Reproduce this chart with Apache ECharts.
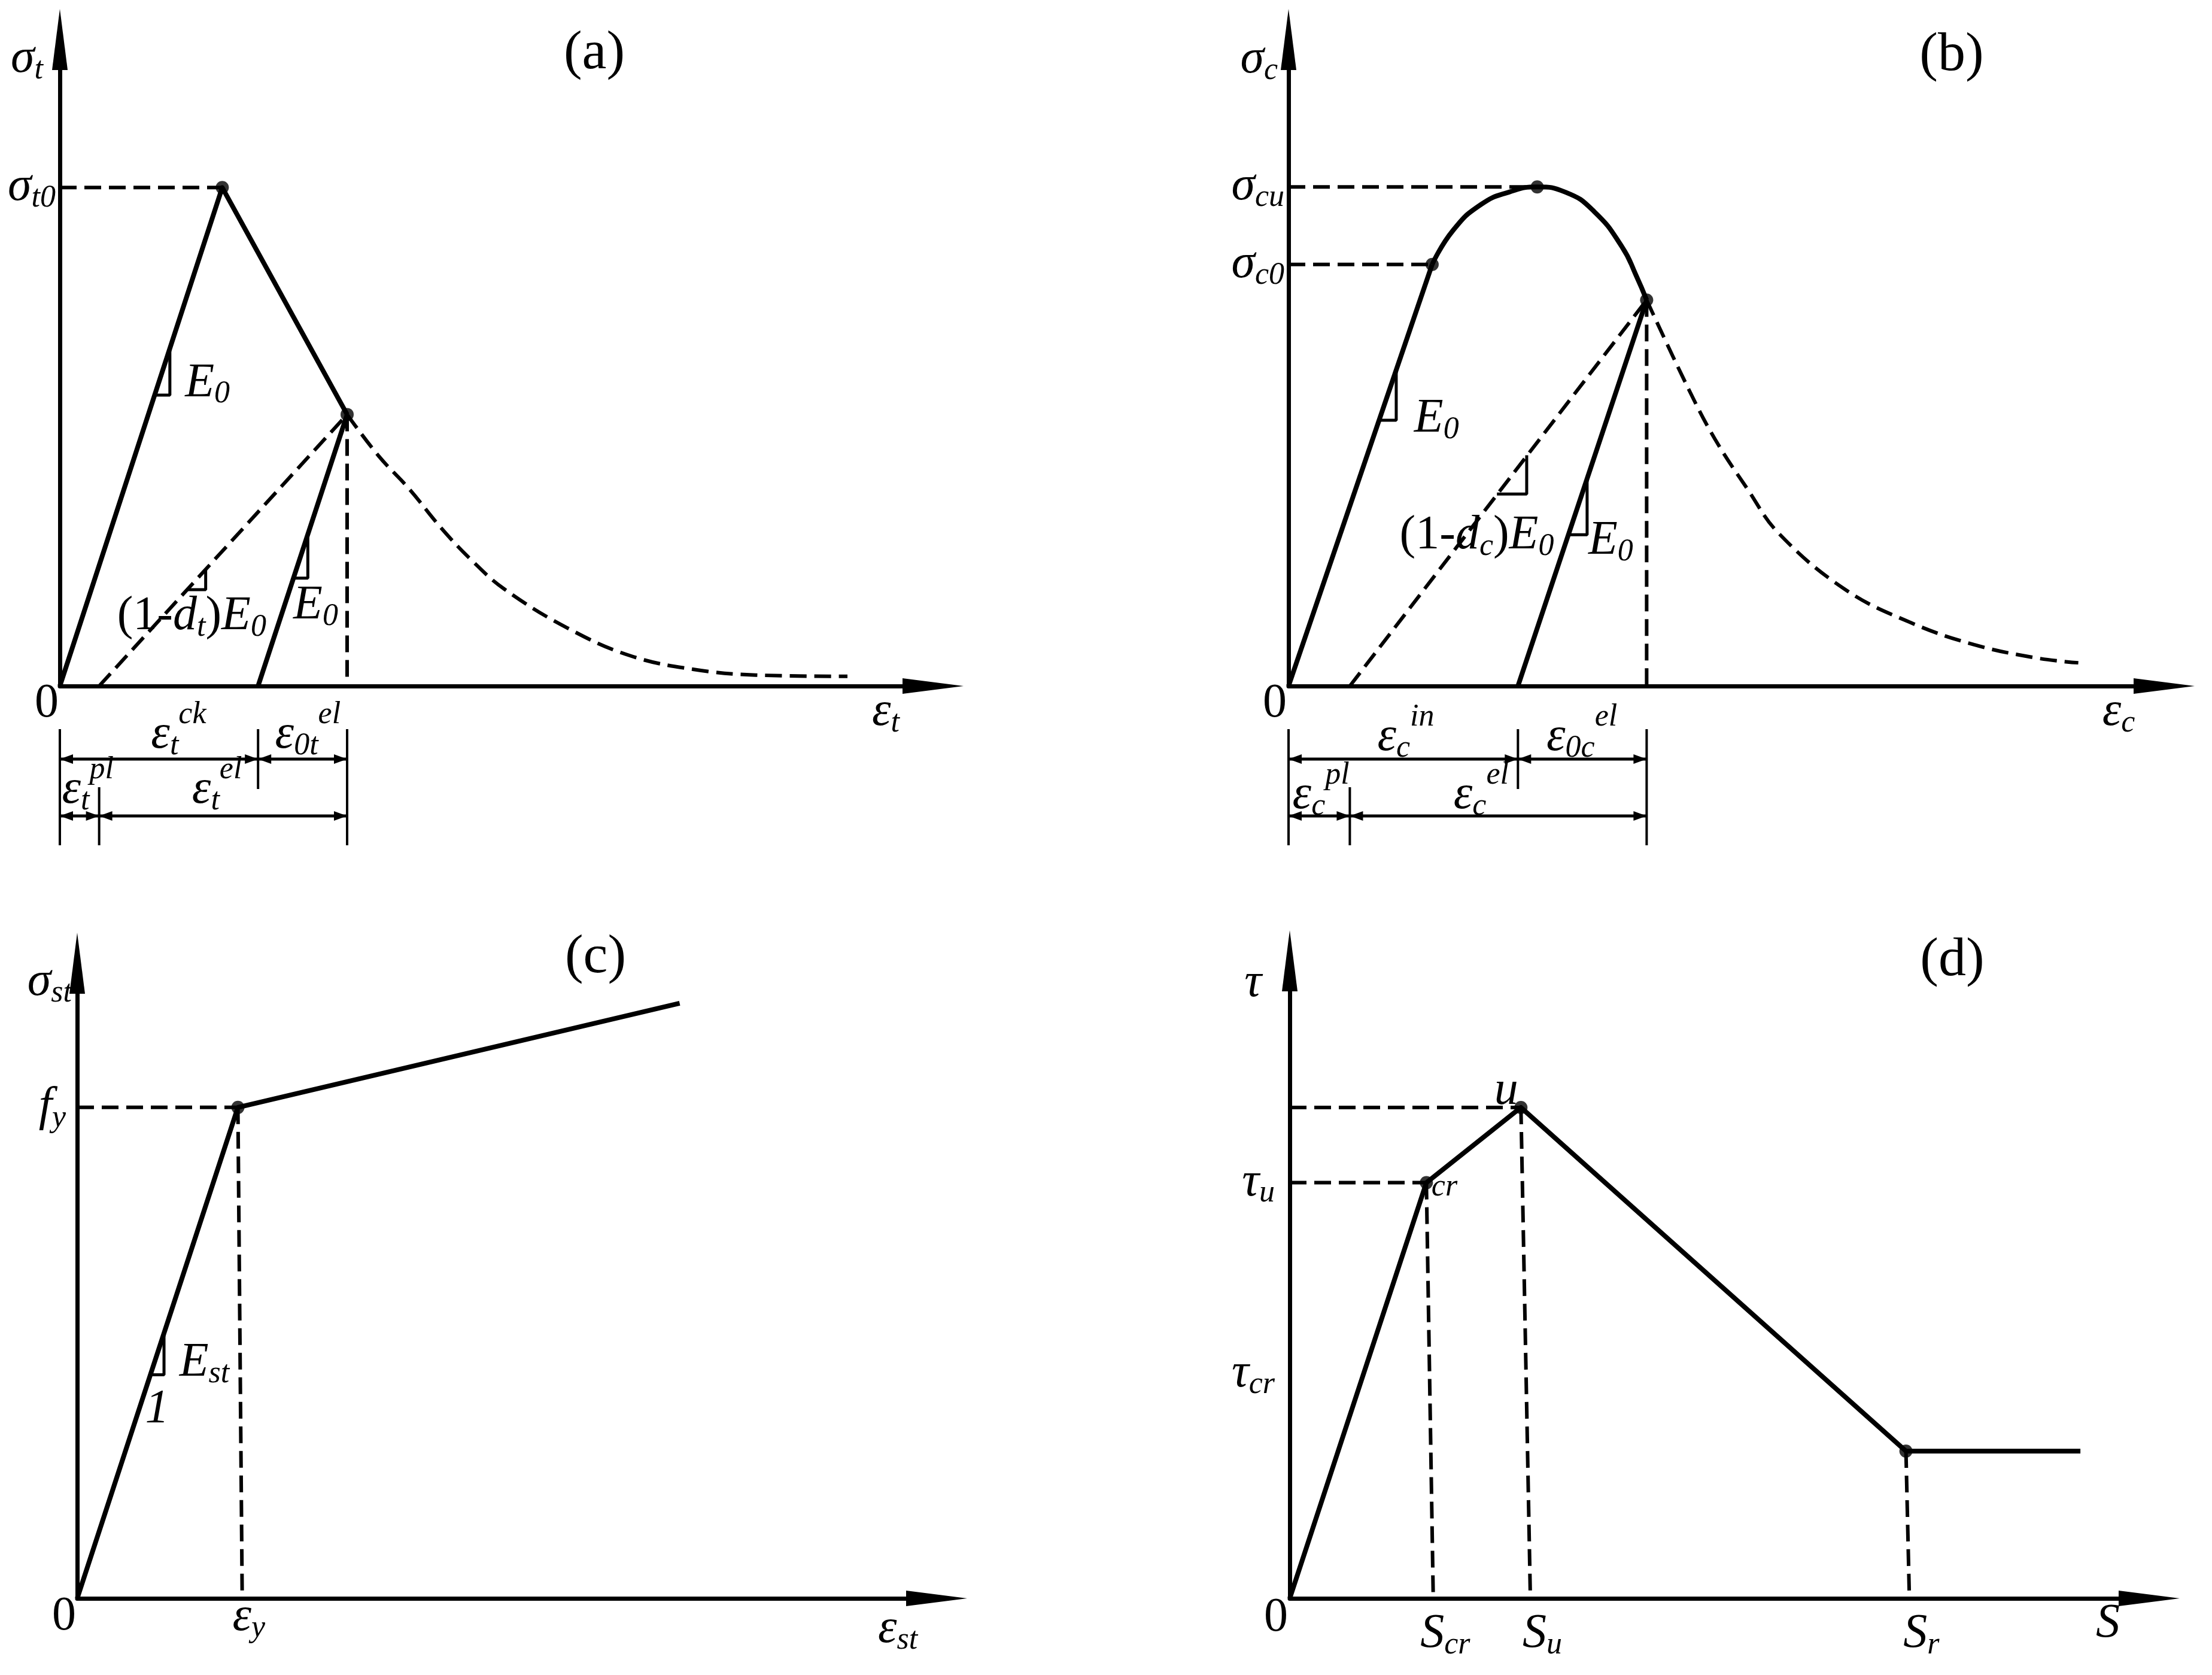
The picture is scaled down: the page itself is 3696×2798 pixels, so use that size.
<!DOCTYPE html>
<html>
<head>
<meta charset="utf-8">
<script src="https://cdn.jsdelivr.net/npm/echarts@6/dist/echarts.min.js"></script>
<style>
html,body{margin:0;padding:0;background:#fff;}
#chart{width:3696px;height:2798px;}
</style>
</head>
<body>
<div id="chart"></div>
<script>
// ---------------- data (schematic units, 0-100 along each axis) ----------------
// (a) concrete in tension
const tenEnvelope = [[0, 0], [18.6, 77.1], [32.9, 42.0]];
const tenTail = [[32.9, 42.0], [36.5, 35.6], [40.0, 30.5], [43.7, 24.4], [47.2, 19.4], [50.9, 15.0], [58.1, 9.0], [65.3, 4.7], [72.5, 2.6], [79.7, 1.7], [90.2, 1.5]];
const tenUnload = [[22.7, 0], [32.9, 42.0]];
const tenSecant = [[4.5, 0], [32.9, 42.0]];
const tenGuideH = [[0, 77.1], [18.6, 77.1]];
const tenGuideV = [[32.9, 42.0], [32.9, 0]];
const tenPoints = [[18.6, 77.1], [32.9, 42.0]];
const tenSlopeMarks = [
  [[12.6, 52.2], [12.6, 45.0], [10.9, 45.0]],
  [[16.7, 18.1], [16.7, 14.9], [14.6, 14.9]],
  [[28.4, 23.6], [28.4, 16.7], [26.8, 16.7]]
];
const tenDimTicks = [0, 4.5, 22.7, 32.9];
const tenYTicks = [77.1];
const tenYTickLabels = ['{m|σ}{s|t0}'];

// (b) concrete in compression
const comLoad = [[0, 0], [16.4, 65.2]];
const comCurve = [[16.4, 65.2], [18.8, 70.5], [22.0, 74.5], [25.2, 76.4], [28.4, 77.2], [31.6, 76.4], [34.9, 73.4], [38.1, 67.9], [39.7, 63.5], [40.9, 59.7]];
const comTail = [[40.9, 59.7], [45.7, 45.9], [48.7, 38.2], [52.4, 30.5], [56.0, 23.6], [63.5, 15.0], [70.9, 9.9], [78.3, 6.4], [85.6, 4.3], [90.2, 3.6]];
const comUnload = [[26.2, 0], [40.9, 59.7]];
const comSecant = [[7.0, 0], [40.9, 59.7]];
const comGuideH1 = [[0, 77.2], [28.4, 77.2]];
const comGuideH2 = [[0, 65.2], [16.4, 65.2]];
const comGuideV = [[40.9, 59.7], [40.9, 0]];
const comPoints = [[16.4, 65.2], [28.4, 77.2], [40.9, 59.7]];
const comSlopeMarks = [
  [[12.3, 48.9], [12.3, 41.1], [10.3, 41.1]],
  [[27.2, 35.7], [27.2, 29.7], [23.8, 29.7]],
  [[34.1, 32.0], [34.1, 23.4], [32.0, 23.4]]
];
const comDimTicks = [0, 7.0, 26.2, 40.9];
const comYTicks = [77.2, 65.2];
const comYTickLabels = ['{m|σ}{s|cu}', '{m|σ}{s|c0}'];

// (c) steel
const stlPath = [[0, 0], [18.7, 77.3], [70.1, 93.7]];
const stlGuideH = [[0, 77.3], [18.7, 77.3]];
const stlGuideV = [[18.7, 77.3], [19.2, 0]];
const stlPoints = [[18.7, 77.3]];
const stlSlopeMark = [[10.1, 41.6], [10.1, 35.2], [8.5, 35.2]];
const stlYTicks = [77.3];
const stlYTickLabels = ['{m|f}{s|y}'];
const stlXTicks = [19.2];
const stlXTickLabels = ['{m|ε}{s|y}'];

// (d) bond-slip
const bondPath = [[0, 0], [15.9, 65.2], [26.9, 77.0], [71.7, 23.1], [92.0, 23.1]];
const bondGuideH1 = [[0, 77.0], [26.9, 77.0]];
const bondGuideH2 = [[0, 65.2], [15.9, 65.2]];
const bondGuideV1 = [[15.9, 65.2], [16.7, 0]];
const bondGuideV2 = [[26.9, 77.0], [28.0, 0]];
const bondGuideV3 = [[71.7, 23.1], [72.1, 0]];
const bondPoints = [[15.9, 65.2], [26.9, 77.0], [71.7, 23.1]];
const bondYTicks = [65.2, 35.2];
const bondYTickLabels = ['{m|τ}{s|u}', '{m|τ}{s|cr}'];
const bondXTicks = [16.7, 28.0, 72.1];
const bondXTickLabels = ['{m|S}{s|cr}', '{m|S}{s|u}', '{m|S}{s|r}'];

// ---------------- styling helpers ----------------
const FONT = '"Liberation Serif", "Times New Roman", serif';
function makeRich(colorKey) {
  const base = (extra) => Object.assign({fontFamily: FONT, fontStyle: 'italic', fontWeight: 'normal', fontSize: 80, verticalAlign: 'middle', [colorKey]: '#000'}, extra);
  return {
    m: base({}),
    r: base({fontStyle: 'normal'}),
    s: base({fontSize: 52, padding: [36, 0, 0, 0]}),
    p: base({fontSize: 52, padding: [0, 0, 68, 0]}),
    c: base({fontSize: 52})
  };
}
const RICH_E = makeRich('color');
const RICH_Z = makeRich('fill');

const AXIS_LINE = {show: true, onZero: false, symbol: ['none', 'triangle'], symbolSize: [26, 102], lineStyle: {color: '#000', width: 7}};

function xAx(gi, name, gap, padTop, ticks, labels, margin, padLeft) {
  return {
    type: 'value', gridIndex: gi, min: 0, max: 100,
    axisLine: AXIS_LINE, axisTick: {show: false}, splitLine: {show: false},
    axisLabel: ticks ? {show: true, customValues: ticks, formatter: v => labels[ticks.indexOf(v)], margin: margin,
      align: 'center', verticalAlign: 'middle', padding: [0, 0, 0, padLeft], rich: RICH_E, color: '#000', fontFamily: FONT, fontSize: 80} : {show: false},
    name: name, nameLocation: 'end', nameGap: gap,
    nameTextStyle: {align: 'center', verticalAlign: 'middle', padding: [padTop, 0, 0, 0], rich: RICH_E, color: '#000', fontFamily: FONT, fontSize: 80}
  };
}
function yAx(gi, name, gap, padRight, ticks, labels, margin) {
  return {
    type: 'value', gridIndex: gi, min: 0, max: 100,
    axisLine: AXIS_LINE, axisTick: {show: false}, splitLine: {show: false},
    axisLabel: ticks ? {show: true, customValues: ticks, formatter: v => labels[ticks.indexOf(v)], margin: margin,
      align: 'right', verticalAlign: 'middle', rich: RICH_E, color: '#000', fontFamily: FONT, fontSize: 80} : {show: false},
    name: name, nameLocation: 'end', nameGap: gap,
    nameTextStyle: {align: 'right', verticalAlign: 'middle', padding: [0, padRight, 0, 0], rich: RICH_E, color: '#000', fontFamily: FONT, fontSize: 80}
  };
}

const SOLID = {color: '#000', width: 8, type: 'solid', join: 'round'};
const DASH = {color: '#000', width: 6, type: [28, 13]};
const THIN = {color: '#000', width: 5, type: 'solid'};
function lineS(gi, data, style, smooth) {
  return {type: 'line', xAxisIndex: gi, yAxisIndex: gi, data: data, showSymbol: false, symbol: 'none',
    silent: true, clip: false, smooth: smooth || false, lineStyle: style, z: 4};
}
function dots(gi, data) {
  return {type: 'scatter', xAxisIndex: gi, yAxisIndex: gi, data: data, symbolSize: 22, silent: true, clip: false,
    itemStyle: {color: '#000'}, z: 6};
}

// annotations (texts, dimension lines) positioned through the axes of each grid
function annot(gi, items, dims) {
  return {
    type: 'custom', xAxisIndex: gi, yAxisIndex: gi, coordinateSystem: 'cartesian2d', data: [[0, 0]],
    silent: true, clip: false, z: 8,
    renderItem: function (params, api) {
      const kids = [];
      const o = api.coord([0, 0]);
      items.forEach(it => {
        const p = api.coord(it.at);
        kids.push({type: 'text', x: p[0] + (it.dx || 0), y: p[1] + (it.dy || 0),
          style: {text: it.text, rich: RICH_Z, align: 'center', verticalAlign: 'middle', fill: '#000', fontFamily: FONT, fontSize: 80}});
      });
      if (dims) {
        const xs = dims.ticks.map(t => api.coord([t, 0])[0]);
        dims.spans.forEach((sp, i) => {
          kids.push({type: 'line', shape: {x1: xs[i], y1: o[1] + sp[0], x2: xs[i], y2: o[1] + sp[1]}, style: {stroke: '#000', lineWidth: 4}});
        });
        const L = 22, W = 8;
        dims.rows.forEach(row => {
          const y = o[1] + row.dy;
          row.segs.forEach(sg => {
            const a = xs[sg[0]], b = xs[sg[1]];
            kids.push({type: 'line', shape: {x1: a, y1: y, x2: b, y2: y}, style: {stroke: '#000', lineWidth: 5}});
            kids.push({type: 'polygon', shape: {points: [[a, y], [a + L, y - W], [a + L, y + W]]}, style: {fill: '#000'}});
            kids.push({type: 'polygon', shape: {points: [[b, y], [b - L, y - W], [b - L, y + W]]}, style: {fill: '#000'}});
          });
        });
      }
      return {type: 'group', children: kids};
    }
  };
}

const series = [];
// (a)
series.push(lineS(0, tenEnvelope, SOLID));
series.push(lineS(0, tenUnload, SOLID));
series.push(lineS(0, tenSecant, DASH));
series.push(lineS(0, tenTail, DASH, 0.4));
series.push(lineS(0, tenGuideH, DASH));
series.push(lineS(0, tenGuideV, DASH));
tenSlopeMarks.forEach(m => series.push(lineS(0, m, THIN)));
series.push(dots(0, tenPoints));
series.push(annot(0, [
  {text: '{r|0}', at: [0, 0], dx: -22, dy: 30},
  {text: '{m|E}{s|0}', at: [16.9, 46.8]},
  {text: '{r|(1-}{m|d}{s|t}{r|)}{m|E}{s|0}', at: [15.1, 10.7]},
  {text: '{m|E}{s|0}', at: [29.3, 12.4]},
  {text: '{m|ε}{s|t}{p|ck}', at: [13.6, 0], dy: 82},
  {text: '{m|ε}{s|0t}{p|el}', at: [28.4, 0], dy: 82},
  {text: '{m|ε}{s|t}{p|pl}', at: [3.2, 0], dy: 174},
  {text: '{m|ε}{s|t}{p|el}', at: [18.0, 0], dy: 174}
], {ticks: tenDimTicks, spans: [[72, 266], [169, 266], [72, 172], [72, 266]],
    rows: [{dy: 122, segs: [[0, 2], [2, 3]]}, {dy: 217, segs: [[0, 1], [1, 3]]}]}));
// (b)
series.push(lineS(1, comLoad, SOLID));
series.push(lineS(1, comCurve, SOLID, 0.5));
series.push(lineS(1, comUnload, SOLID));
series.push(lineS(1, comSecant, DASH));
series.push(lineS(1, comTail, DASH, 0.4));
series.push(lineS(1, comGuideH1, DASH));
series.push(lineS(1, comGuideH2, DASH));
series.push(lineS(1, comGuideV, DASH));
comSlopeMarks.forEach(m => series.push(lineS(1, m, THIN)));
series.push(dots(1, comPoints));
series.push(annot(1, [
  {text: '{r|0}', at: [0, 0], dx: -23, dy: 30},
  {text: '{m|E}{s|0}', at: [16.9, 41.3]},
  {text: '{r|(1-}{m|d}{s|c}{r|)}{m|E}{s|0}', at: [21.5, 23.2]},
  {text: '{m|E}{s|0}', at: [36.8, 22.4]},
  {text: '{m|ε}{s|c}{p|in}', at: [13.4, 0], dy: 86},
  {text: '{m|ε}{s|0c}{p|el}', at: [33.5, 0], dy: 86},
  {text: '{m|ε}{s|c}{p|pl}', at: [3.7, 0], dy: 183},
  {text: '{m|ε}{s|c}{p|el}', at: [22.0, 0], dy: 183}
], {ticks: comDimTicks, spans: [[72, 266], [169, 266], [72, 172], [72, 266]],
    rows: [{dy: 122, segs: [[0, 2], [2, 3]]}, {dy: 217, segs: [[0, 1], [1, 3]]}]}));
// (c)
series.push(lineS(2, stlPath, SOLID));
series.push(lineS(2, stlGuideH, DASH));
series.push(lineS(2, stlGuideV, DASH));
series.push(lineS(2, stlSlopeMark, THIN));
series.push(dots(2, stlPoints));
series.push(annot(2, [
  {text: '{r|0}', at: [0, 0], dx: -22, dy: 31},
  {text: '{m|E}{s|st}', at: [14.8, 37.0]},
  {text: '{m|1}', at: [9.3, 29.7]}
]));
// (d)
series.push(lineS(3, bondPath, SOLID));
series.push(lineS(3, bondGuideH1, DASH));
series.push(lineS(3, bondGuideH2, DASH));
series.push(lineS(3, bondGuideV1, DASH));
series.push(lineS(3, bondGuideV2, DASH));
series.push(lineS(3, bondGuideV3, DASH));
series.push(dots(3, bondPoints));
series.push(annot(3, [
  {text: '{r|0}', at: [0, 0], dx: -23, dy: 33},
  {text: '{m|u}', at: [25.2, 79.5]},
  {text: '{c|cr}', at: [18.0, 64.5]}
]));

const titleStyle = {fontFamily: FONT, fontSize: 92, fontWeight: 'normal', color: '#000'};
const option = {
  animation: false,
  backgroundColor: '#fff',
  title: [
    {text: '(a)', left: 993, top: 90, textAlign: 'center', textVerticalAlign: 'middle', padding: 0, textStyle: titleStyle},
    {text: '(b)', left: 3261, top: 93, textAlign: 'center', textVerticalAlign: 'middle', padding: 0, textStyle: titleStyle},
    {text: '(c)', left: 995, top: 1600, textAlign: 'center', textVerticalAlign: 'middle', padding: 0, textStyle: titleStyle},
    {text: '(d)', left: 3262, top: 1605, textAlign: 'center', textVerticalAlign: 'middle', padding: 0, textStyle: titleStyle}
  ],
  grid: [
    {left: 100, top: 66, width: 1459, height: 1080},
    {left: 2153, top: 66, width: 1463, height: 1080},
    {left: 129, top: 1609, width: 1436, height: 1061},
    {left: 2155, top: 1605, width: 1436, height: 1065}
  ],
  xAxis: [
    xAx(0, '{m|ε}{s|t}', -79, 88),
    xAx(1, '{m|ε}{s|c}', -76, 88),
    xAx(2, '{m|ε}{s|st}', -65, 104, stlXTicks, stlXTickLabels, 32, 22),
    xAx(3, '{m|S}', -69, 86, bondXTicks, bondXTickLabels, 60, 40)
  ],
  yAxis: [
    yAx(0, '{m|σ}{s|t}', -33, 28, tenYTicks, tenYTickLabels, 7),
    yAx(1, '{m|σ}{s|c}', -34, 18, comYTicks, comYTickLabels, 7),
    yAx(2, '{m|σ}{s|st}', -32, 9, stlYTicks, stlYTickLabels, 19),
    yAx(3, '{m|τ}', -38, 47, bondYTicks, bondYTickLabels, 25)
  ],
  series: series
};
const chart = echarts.init(document.getElementById('chart'), null, {renderer: 'canvas'});
chart.setOption(option);
</script>
</body>
</html>
